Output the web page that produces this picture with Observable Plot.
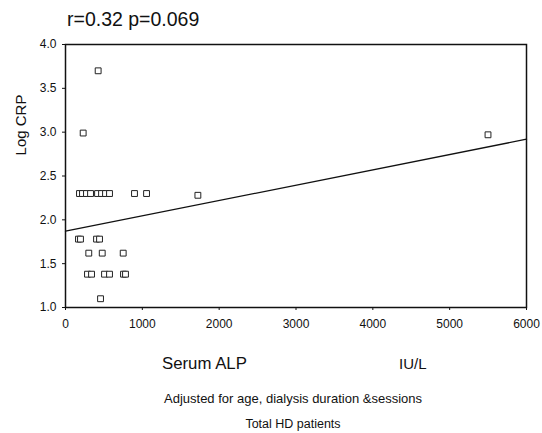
<!DOCTYPE html>
<html>
<head>
<meta charset="utf-8">
<script src="https://cdn.jsdelivr.net/npm/d3@7"></script>
<script src="https://cdn.jsdelivr.net/npm/@observablehq/plot@0.6"></script>
<style>
  html, body { margin: 0; padding: 0; background: #fff; }
  #chart { width: 542px; height: 433px; }
</style>
</head>
<body>
<div id="chart"></div>
<script>
// Data: serum ALP (IU/L) vs log CRP
const alp = [182, 221, 273, 326, 417, 469, 521, 573, 898, 1055, 1723,
             169, 195, 404, 443,
             303, 478, 751,
             286, 339, 508, 573, 755, 781,
             456, 425, 230, 5499];
const logCrp = [2.3, 2.3, 2.3, 2.3, 2.3, 2.3, 2.3, 2.3, 2.3, 2.3, 2.28,
                1.78, 1.78, 1.78, 1.78,
                1.62, 1.62, 1.62,
                1.38, 1.38, 1.38, 1.38, 1.38, 1.38,
                1.10, 3.70, 2.99, 2.97];
// Fitted line endpoints
const fitX = [0, 6000];
const fitY = [1.87, 2.92];
const xTicks = [0, 1000, 2000, 3000, 4000, 5000, 6000];
const yTicks = [1.0, 1.5, 2.0, 2.5, 3.0, 3.5, 4.0];

const points = alp.map((a, i) => ({alp: a, crp: logCrp[i]}));
const fit = fitX.map((x, i) => ({x, y: fitY[i]}));

const plot = Plot.plot({
  width: 542,
  height: 433,
  marginLeft: 65,
  marginRight: 16,
  marginTop: 44,
  marginBottom: 126,
  style: {fontFamily: "'Liberation Sans', Arial, sans-serif", fontSize: "12px", color: "#111", background: "#fff"},
  x: {domain: [0, 6000], ticks: xTicks, tickFormat: d3.format("d"), tickSize: 3, tickPadding: 9, label: null},
  y: {domain: [1, 4], ticks: yTicks, tickFormat: d3.format(".1f"), tickSize: 3, tickPadding: 6, label: null},
  marks: [
    Plot.frame({stroke: "#111", strokeWidth: 1.5}),
    Plot.line(fit, {x: "x", y: "y", stroke: "#111", strokeWidth: 1.3}),
    Plot.dot(points, {x: "alp", y: "crp", symbol: "square", r: 3.3, stroke: "#222", strokeWidth: 1, fill: "#fff"})
  ]
});

const svg = d3.select(plot);
const font = "'Liberation Sans', Arial, sans-serif";
function addText(txt, x, y, size, opts = {}) {
  const t = svg.append("text")
    .attr("x", x).attr("y", y)
    .attr("font-family", font)
    .attr("font-size", size)
    .attr("fill", "#111")
    .attr("text-anchor", opts.anchor || "start")
    .text(txt);
  if (opts.rotate) t.attr("transform", `rotate(-90 ${x} ${y})`);
  return t;
}
addText("r=0.32 p=0.069", 67, 26, 19.5);
addText("Log CRP", 26, 125, 15, {anchor: "middle", rotate: true});
addText("Serum ALP", 162, 369, 16.8);
addText("IU/L", 399, 369, 15);
addText("Adjusted for age, dialysis duration &sessions", 293, 403, 13, {anchor: "middle"});
addText("Total HD patients", 293, 428, 12.5, {anchor: "middle"});

document.getElementById("chart").appendChild(plot);
</script>
</body>
</html>
